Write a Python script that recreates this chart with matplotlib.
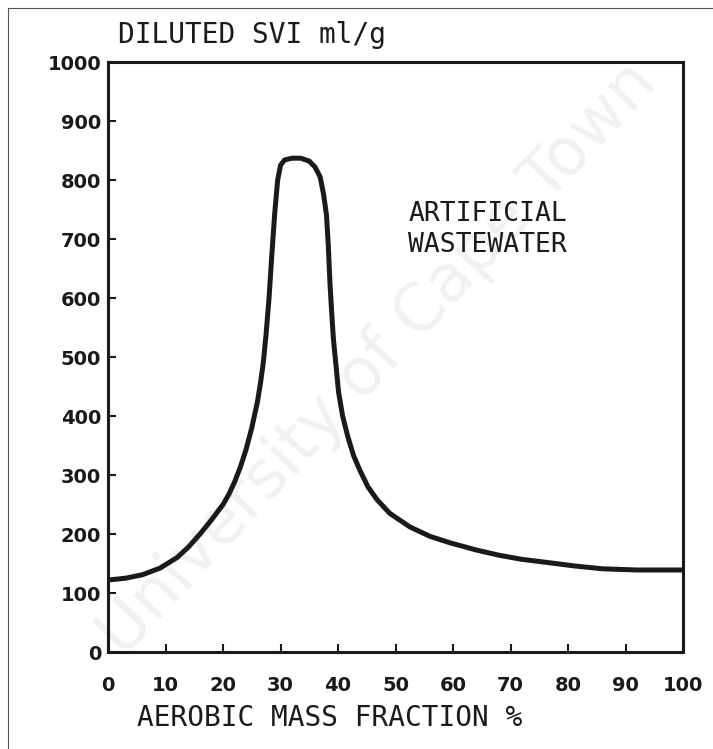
import numpy as np
import matplotlib
matplotlib.use('Agg')
from matplotlib import pyplot as plt
from matplotlib.lines import Line2D

# values
aerobic_frac = [0, 3, 6, 9, 12, 14, 16, 18, 20, 21, 22, 23, 24, 25, 26, 26.5, 27,
                27.5, 28, 28.5, 29, 29.5, 30, 30.7, 32, 33.5, 35, 36, 36.9, 37.5,
                38, 38.3, 38.6, 38.9, 39.2, 39.6, 40.1, 40.8, 41.7, 42.7, 43.8,
                45.2, 46.8, 49, 52.5, 56, 59.5, 64, 68, 72, 77, 81, 86, 92, 100]
svi = [122, 125, 131, 142, 160, 178, 200, 224, 250, 267, 288, 313, 343, 380, 425,
       455, 490, 540, 600, 675, 745, 800, 825, 834, 837, 837, 832, 822, 805, 775,
       740, 690, 625, 575, 530, 490, 440, 400, 365, 333, 308,
       280, 258, 235, 212, 196, 185, 173, 164, 157, 151, 146, 141, 139, 139]
x_ticks = list(range(0, 101, 10))
y_ticks = list(range(0, 1001, 100))

fig = plt.figure(figsize=(7.13, 7.49), dpi=100)

# faint scan watermark
fig.text(0.53, 0.52, 'University of Cape Town', fontsize=47, color='#f1f1f1',
         rotation=47, ha='center', va='center', zorder=-1)

# thin scan border
fig.add_artist(Line2D([0.011, 0.011], [0.0, 0.989], color='#555555', lw=0.8))
fig.add_artist(Line2D([0.011, 1.0], [0.989, 0.989], color='#555555', lw=0.8))

ax = fig.add_axes([0.1515, 0.1295, 0.8065, 0.7877])
ax.patch.set_alpha(0)
ax.plot(aerobic_frac, svi, color='#1a1a1a', lw=3.6, solid_capstyle='round',
        solid_joinstyle='round')

ax.set_xlim(0, 100)
ax.set_ylim(0, 1000)
ax.set_xticks(x_ticks)
ax.set_yticks(y_ticks)
for s in ax.spines.values():
    s.set_linewidth(2.2)
    s.set_color('#1a1a1a')
ax.tick_params(direction='in', length=6, width=1.5, color='#1a1a1a')
ax.tick_params(axis='x', pad=17)
ax.tick_params(axis='y', pad=5)
for lab in ax.get_xticklabels() + ax.get_yticklabels():
    lab.set_fontweight('heavy')
    lab.set_fontsize(14)
    lab.set_color('#1a1a1a')

ax.text(66, 742, 'ARTIFICIAL', fontsize=19, family='DejaVu Sans Mono',
        ha='center', va='center', color='#1a1a1a')
ax.text(66, 690, 'WASTEWATER', fontsize=19, family='DejaVu Sans Mono',
        ha='center', va='center', color='#1a1a1a')

fig.text(118 / 713, 1 - 35 / 749, 'DILUTED SVI ml/g', fontsize=20,
         family='DejaVu Sans Mono', ha='left', va='center', color='#1a1a1a')
fig.text(137 / 713, 1 - 718 / 749, 'AEROBIC MASS FRACTION %', fontsize=20,
         family='DejaVu Sans Mono', ha='left', va='center', color='#1a1a1a')

fig.savefig('out.png', dpi=100)
